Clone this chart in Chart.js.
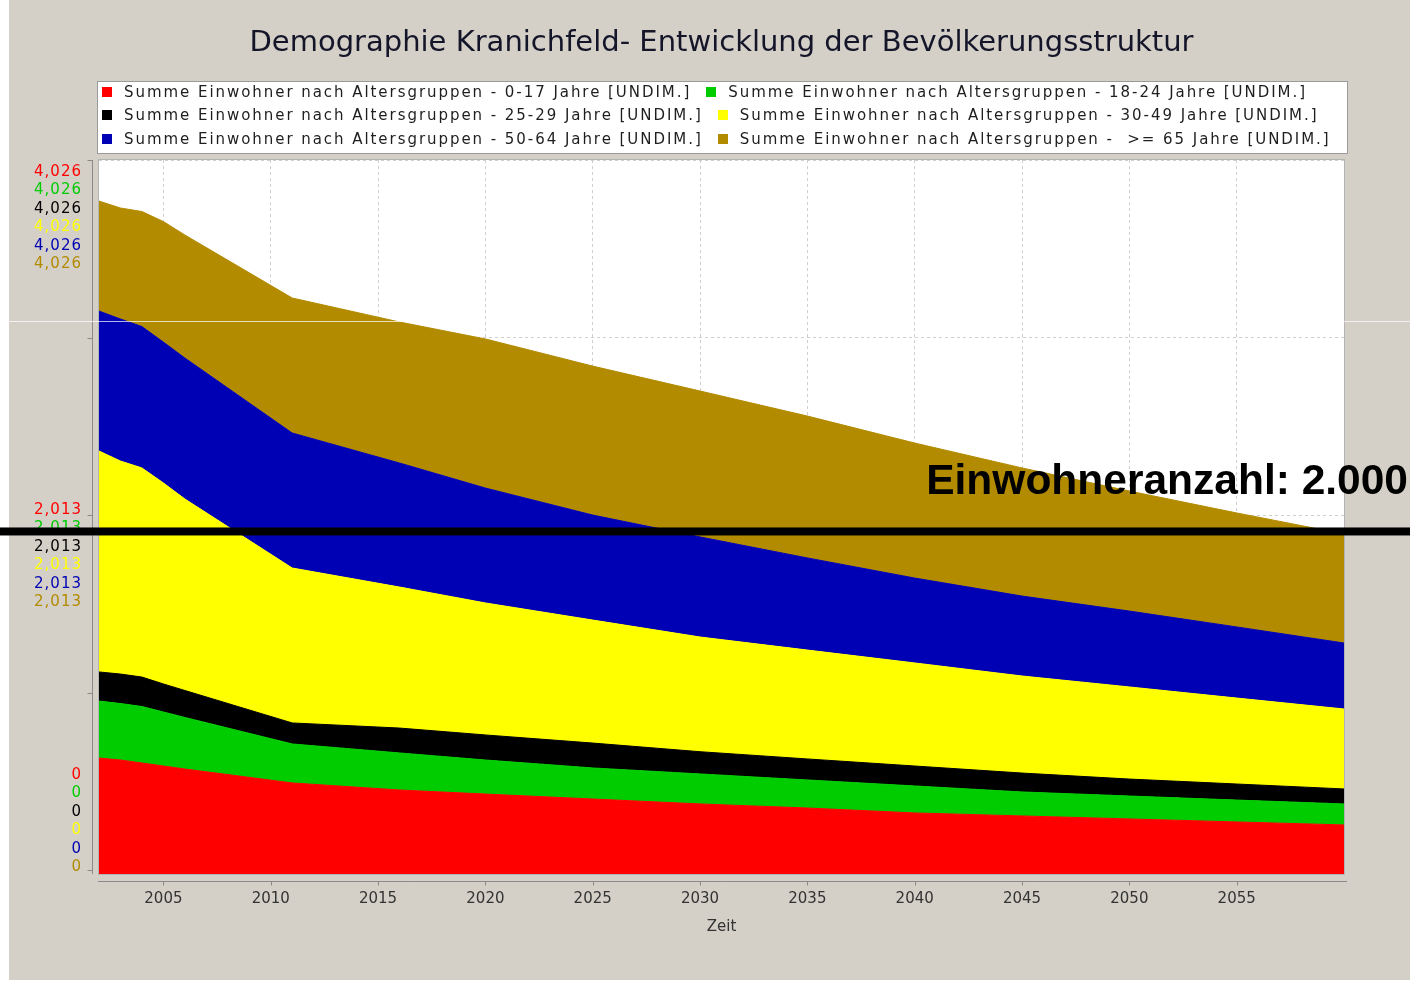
<!DOCTYPE html>
<html>
<head>
<meta charset="utf-8">
<script src="https://cdn.jsdelivr.net/npm/chart.js@4.4.1/dist/chart.umd.min.js"></script>
<style>
  body { margin: 0; background: #fff; }
  #wrap { position: relative; width: 1410px; height: 981px; }
  #legend {
    position: absolute; left: 97px; top: 81px; width: 1249px; height: 71px;
    background: #fff; border: 1px solid #9a9a9a;
    font: 15px "DejaVu Sans"; letter-spacing: 1.95px; color: #1e1e1e;
  }
  #legend .rows { position: relative; top: -2px; }
  #legend .row { height: 23.5px; display: flex; align-items: center; padding-left: 4px; }
  #legend .item { display: flex; align-items: center; margin-right: 15px; white-space: pre; }
  #legend .sw { width: 10px; height: 10px; margin-right: 12px; }
</style>
</head>
<body>
<div id="wrap">
  <canvas id="demo" width="1410" height="981"></canvas>
  <div id="legend"><div class="rows"></div></div>
</div>
<script>
// Jahre und Werte je Altersgruppe
var years = [2002, 2003, 2004, 2005, 2006, 2011, 2016, 2020, 2025, 2030, 2035, 2040, 2045, 2050, 2055, 2060];
var age0to17 = [637, 626, 609, 592, 575, 496, 456, 433, 405, 377, 354, 326, 309, 292, 275, 258];
var age18to24 = [323, 320, 320, 306, 292, 221, 210, 193, 176, 170, 159, 153, 136, 130, 124, 119];
var age25to29 = [165, 167, 167, 159, 153, 119, 141, 142, 141, 126, 119, 113, 107, 96, 91, 85];
var age30to49 = [1252, 1207, 1185, 1139, 1085, 878, 799, 748, 697, 650, 617, 584, 550, 522, 487, 453];
var age50to64 = [793, 805, 801, 798, 799, 765, 703, 651, 595, 567, 522, 481, 453, 430, 403, 374];
var age65plus = [623, 629, 652, 683, 697, 765, 799, 845, 844, 827, 804, 765, 726, 680, 646, 618];

var seriesNames = [
  'Summe Einwohner nach Altersgruppen - 0-17 Jahre [UNDIM.]',
  'Summe Einwohner nach Altersgruppen - 18-24 Jahre [UNDIM.]',
  'Summe Einwohner nach Altersgruppen - 25-29 Jahre [UNDIM.]',
  'Summe Einwohner nach Altersgruppen - 30-49 Jahre [UNDIM.]',
  'Summe Einwohner nach Altersgruppen - 50-64 Jahre [UNDIM.]',
  'Summe Einwohner nach Altersgruppen -  >= 65 Jahre [UNDIM.]'
];
var seriesColors = ['#ff0000', '#00cc00', '#000000', '#ffff00', '#0000b4', '#b38b00'];

var xTicks = [2005, 2010, 2015, 2020, 2025, 2030, 2035, 2040, 2045, 2050, 2055];
var yGridTicks = [0, 1006.5, 2013, 3019.5, 4026];
var yLabelTicks = [0, 2013, 4026];
var yLabelText = ['0', '2,013', '4,026'];
var yMin = -20, yMax = 4026;

var markValue = 1921;
var markText = 'Einwohneranzahl: 2.000';

var allSeries = [age0to17, age18to24, age25to29, age30to49, age50to64, age65plus];
var datasets = allSeries.map(function (d, i) {
  return {
    label: seriesNames[i],
    data: d,
    backgroundColor: seriesColors[i],
    borderColor: seriesColors[i],
    borderWidth: 1,
    pointRadius: 0,
    tension: 0,
    fill: i === 0 ? 'start' : '-1'
  };
});

// Legende als HTML, zwei Eintraege pro Zeile
var rowsEl = document.querySelector('#legend .rows');
for (var r = 0; r < 3; r++) {
  var row = document.createElement('div');
  row.className = 'row';
  for (var c = 0; c < 2; c++) {
    var k = r * 2 + c;
    var it = document.createElement('span');
    it.className = 'item';
    var sw = document.createElement('span');
    sw.className = 'sw';
    sw.style.background = seriesColors[k];
    it.appendChild(sw);
    it.appendChild(document.createTextNode(seriesNames[k]));
    row.appendChild(it);
  }
  rowsEl.appendChild(row);
}

var frame = {
  id: 'frame',
  beforeDraw: function (chart) {
    var ctx = chart.ctx, a = chart.chartArea;
    ctx.save();
    ctx.fillStyle = '#fff';
    ctx.fillRect(0, 0, chart.width, chart.height);
    ctx.fillStyle = '#d4d0c8';
    ctx.fillRect(9, 0, chart.width - 9, chart.height - 1);
    ctx.fillStyle = '#fff';
    ctx.fillRect(a.left, a.top, a.right - a.left, a.bottom - a.top);
    ctx.restore();
  },
  afterDraw: function (chart) {
    var ctx = chart.ctx, a = chart.chartArea;
    var ys = chart.scales.y, xs = chart.scales.x;
    ctx.save();
    // Rahmen Plotbereich
    ctx.strokeStyle = '#b4b4b4';
    ctx.lineWidth = 1;
    ctx.strokeRect(a.left - 0.5, a.top - 0.5, a.right - a.left + 1, a.bottom - a.top + 1);
    // Achsenlinien etwas abgesetzt
    ctx.strokeStyle = '#8a8a8a';
    var ax = a.left - 6.5;
    ctx.beginPath();
    ctx.moveTo(ax, ys.getPixelForValue(yMax));
    ctx.lineTo(ax, a.bottom);
    yGridTicks.forEach(function (v) {
      var py = Math.round(ys.getPixelForValue(v)) + 0.5;
      ctx.moveTo(ax - 5, py);
      ctx.lineTo(ax, py);
    });
    var ay = a.bottom + 7.5;
    ctx.moveTo(a.left - 1, ay);
    ctx.lineTo(a.right + 3, ay);
    xTicks.forEach(function (v) {
      var px = Math.round(xs.getPixelForValue(v)) + 0.5;
      ctx.moveTo(px, ay);
      ctx.lineTo(px, ay + 4);
    });
    ctx.stroke();

    // farbige Achsenbeschriftung, je Reihe eine Zeile
    ctx.font = '15px "DejaVu Sans"';
    ctx.letterSpacing = '1px';
    ctx.textAlign = 'right';
    ctx.textBaseline = 'middle';
    var step = 18.5;
    yLabelTicks.forEach(function (v, j) {
      var py = ys.getPixelForValue(v);
      var start;
      if (v === yMax) start = py + 12;
      else if (j === 0) start = py - 3 - step * 5;
      else start = py - 5.5;
      seriesColors.forEach(function (col, i) {
        ctx.fillStyle = col;
        ctx.fillText(yLabelText[j], 82, start + i * step);
      });
    });
    ctx.letterSpacing = '0px';

    // heller Streifen im Bild
    ctx.fillStyle = 'rgba(255,255,255,0.7)';
    ctx.fillRect(0, 321, chart.width, 1);

    // Markierung
    var my = ys.getPixelForValue(markValue);
    ctx.fillStyle = '#000';
    ctx.fillRect(0, my - 4, chart.width, 8);
    ctx.font = 'bold 42.5px "Liberation Sans"';
    ctx.textAlign = 'right';
    ctx.textBaseline = 'alphabetic';
    ctx.fillText(markText, chart.width - 2, my - 37);
    ctx.restore();
  }
};

var chart = new Chart(document.getElementById('demo'), {
  type: 'line',
  data: { labels: years, datasets: datasets },
  plugins: [frame],
  options: {
    responsive: false,
    animation: false,
    events: [],
    layout: { padding: { left: 9, right: 66, top: 0, bottom: 37 } },
    plugins: {
      legend: { display: false },
      tooltip: { enabled: false },
      title: {
        display: true,
        fullSize: false,
        text: 'Demographie Kranichfeld- Entwicklung der Bevölkerungsstruktur',
        color: '#15152a',
        font: { family: 'DejaVu Sans', size: 29, weight: 'normal', lineHeight: 1.2 },
        padding: { top: 26, bottom: 99.2 }
      }
    },
    scales: {
      x: {
        type: 'linear',
        min: 2002,
        max: 2060,
        afterBuildTicks: function (scale) {
          scale.ticks = xTicks.map(function (v) { return { value: v }; });
        },
        afterFit: function (scale) { scale.height = 70; },
        ticks: {
          color: '#333',
          font: { family: 'DejaVu Sans', size: 15 },
          padding: 16,
          maxRotation: 0,
          callback: function (v) { return String(v); }
        },
        grid: { color: '#cfcfcf', drawTicks: false },
        border: { display: false, dash: [3, 3] },
        title: {
          display: true,
          text: 'Zeit',
          color: '#333',
          font: { family: 'DejaVu Sans', size: 15 },
          padding: { top: 0, bottom: 8 }
        }
      },
      y: {
        stacked: true,
        min: yMin,
        max: yMax,
        afterBuildTicks: function (scale) {
          scale.ticks = yGridTicks.map(function (v) { return { value: v }; });
        },
        afterFit: function (scale) { scale.width = 90; },
        ticks: { display: false },
        grid: { color: '#cfcfcf', drawTicks: false },
        border: { display: false, dash: [3, 3] }
      }
    }
  }
});
</script>
</body>
</html>
